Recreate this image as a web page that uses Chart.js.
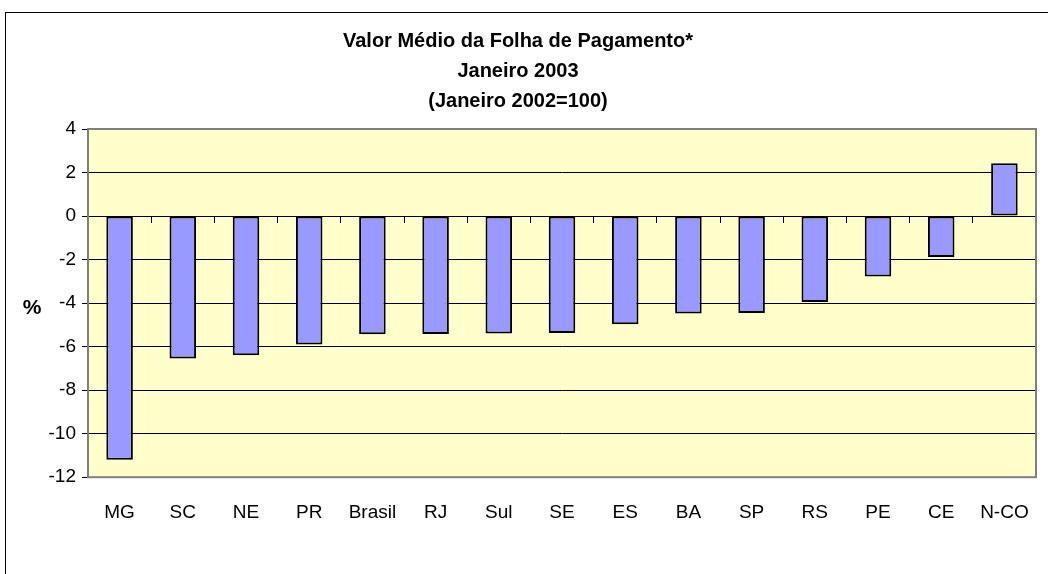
<!DOCTYPE html>
<html>
<head>
<meta charset="utf-8">
<script src="https://cdn.jsdelivr.net/npm/chart.js@4/dist/chart.umd.min.js"></script>
<style>
  html, body { margin: 0; padding: 0; background: #fff; }
  #wrap { width: 1048px; height: 574px; position: relative; }
</style>
</head>
<body>
<div id="wrap"><canvas id="chart"></canvas></div>
<script>
// Valor médio da folha de pagamento, jan 2003 (jan 2002 = 100), variação %
var regioes = ['MG', 'SC', 'NE', 'PR', 'Brasil', 'RJ', 'Sul', 'SE', 'ES', 'BA', 'SP', 'RS', 'PE', 'CE', 'N-CO'];
var variacao = [-11.2, -6.55, -6.4, -5.9, -5.43, -5.42, -5.4, -5.37, -4.97, -4.48, -4.45, -3.95, -2.78, -1.88, 2.43];
var titulo = ['Valor Médio da Folha de Pagamento*', 'Janeiro 2003', '(Janeiro 2002=100)'];
var eixoY = { min: -12, max: 4, step: 2 };

var fontFamily = '"Liberation Sans", Arial, sans-serif';

// fundo amarelo da área do gráfico, moldura e o "%" à esquerda
var plotDecor = {
    id: 'plotDecor',
    beforeDraw: function(chart) {
        var ctx = chart.ctx, a = chart.chartArea;
        ctx.save();
        ctx.fillStyle = '#fff';
        ctx.fillRect(0, 0, chart.width, chart.height);
        ctx.strokeStyle = '#000';
        ctx.lineWidth = 1;
        ctx.strokeRect(5.5, 12.5, chart.width + 20, chart.height + 20);
        ctx.fillStyle = '#FFFFCC';
        ctx.fillRect(a.left, a.top, a.right - a.left, a.bottom - a.top);
        ctx.restore();
    },
    afterDraw: function(chart) {
        var ctx = chart.ctx, a = chart.chartArea;
        ctx.save();
        ctx.strokeStyle = '#808080';
        ctx.lineWidth = 2;
        ctx.strokeRect(a.left, a.top, a.right - a.left, a.bottom - a.top);
        ctx.fillStyle = '#000';
        ctx.font = 'bold 21px ' + fontFamily;
        ctx.textAlign = 'center';
        ctx.textBaseline = 'middle';
        ctx.fillText('%', 32, 308);
        ctx.restore();
    }
};

var ctx = document.getElementById('chart');
var chart = new Chart(ctx, {
    type: 'bar',
    data: {
        labels: regioes,
        datasets: [{
            data: variacao,
            backgroundColor: '#9999FF',
            borderColor: '#000',
            borderWidth: 2,
            borderSkipped: false,
            categoryPercentage: 1,
            barPercentage: 0.42
        }]
    },
    options: {
        responsive: true,
        maintainAspectRatio: false,
        animation: false,
        layout: { padding: { left: 0, right: 12, top: 0, bottom: 34 } },
        plugins: {
            legend: { display: false },
            tooltip: { enabled: false },
            title: {
                display: true,
                text: titulo,
                color: '#000',
                font: { family: fontFamily, size: 20, weight: 'bold', lineHeight: 1.5 },
                padding: { top: 26, bottom: 13 }
            }
        },
        scales: {
            x: {
                position: 'bottom',
                grid: { display: false },
                border: { display: false },
                ticks: { color: '#000', font: { family: fontFamily, size: 19 }, padding: 16, maxRotation: 0, autoSkip: false }
            },
            x0: {
                type: 'category',
                labels: regioes,
                position: { y: 0 },
                offset: true,
                grid: { offset: true, drawOnChartArea: false, drawTicks: true, tickLength: 6, color: '#000' },
                border: { color: '#000', width: 1 },
                ticks: { display: false }
            },
            y: {
                min: eixoY.min,
                max: eixoY.max,
                ticks: { stepSize: eixoY.step, color: '#000', font: { family: fontFamily, size: 19 }, padding: 6 },
                grid: { color: '#000', lineWidth: 1, tickLength: 6, tickColor: '#000' },
                border: { color: '#808080', width: 2 },
                afterFit: function(scale) { scale.width = 88; }
            }
        }
    },
    plugins: [plotDecor]
});
</script>
</body>
</html>
